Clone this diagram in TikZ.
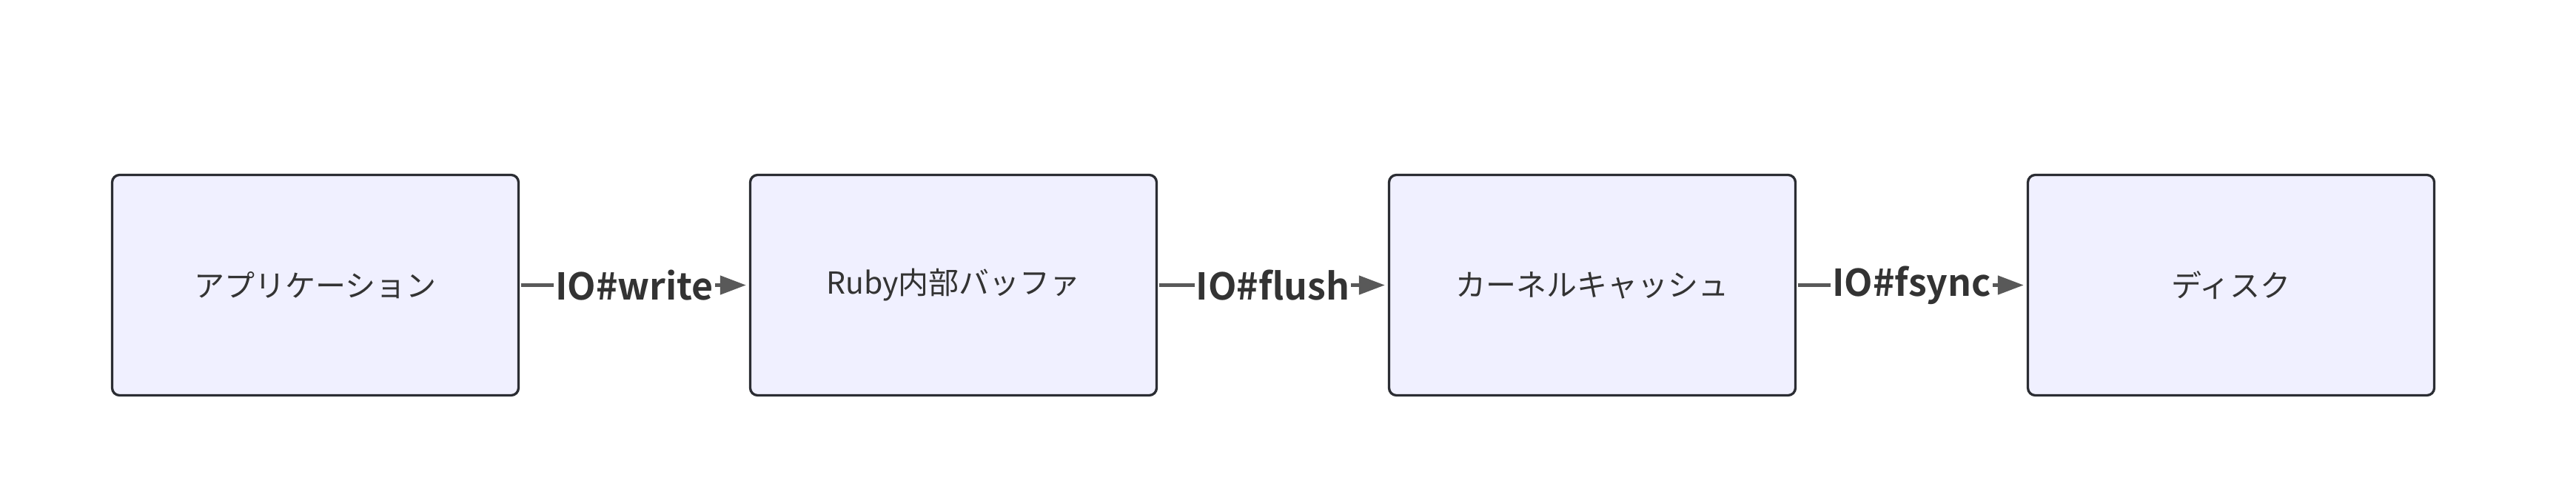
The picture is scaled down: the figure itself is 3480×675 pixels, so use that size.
\documentclass[tikz,border=0pt]{standalone}
\usepackage{fontspec}
\setmainfont{Noto Sans CJK JP}[BoldFont={Noto Sans CJK JP Bold}]
\usetikzlibrary{arrows.meta}
\definecolor{boxfill}{HTML}{F0F0FF}
\definecolor{boxline}{HTML}{2B2D33}
\definecolor{edgeline}{HTML}{595959}
\definecolor{txt}{HTML}{333333}
\tikzset{
  stage/.style={draw=boxline, fill=boxfill, line width=3.3pt, rounded corners=10pt,
    minimum width=549pt, minimum height=298pt, inner sep=0pt,
    text=txt, font=\fontsize{41pt}{49pt}\selectfont},
  flow/.style={draw=edgeline, line width=4.7pt,
    -{Triangle[length=35pt,width=25pt]}, shorten >=4pt, shorten <=1.5pt},
  elabel/.style={fill=white, inner xsep=2pt, inner ysep=4pt, text=txt,
    font=\fontsize{50pt}{58pt}\selectfont\bfseries}
}
\begin{document}
\begin{tikzpicture}[x=1pt,y=-1pt]
\useasboundingbox (0,0) rectangle (3480,675);
\node[stage] (app) at (426,385.5) {アプリケーション};
\node[stage] (buf) at (1288,385.5) {Ruby内部バッファ};
\node[stage] (kc) at (2151,385.5) {カーネルキャッシュ};
\node[stage] (disk) at (3014,385.5) {ディスク};
\draw[flow] (app.east) -- node[elabel] (l1) {IO\#write} (buf.west);
\draw[flow] (buf.east) -- node[elabel] (l2) {IO\#flush} (kc.west);
\draw[flow] (kc.east) -- node[elabel] (l3) {IO\#fsync} (disk.west);
\end{tikzpicture}
\end{document}
